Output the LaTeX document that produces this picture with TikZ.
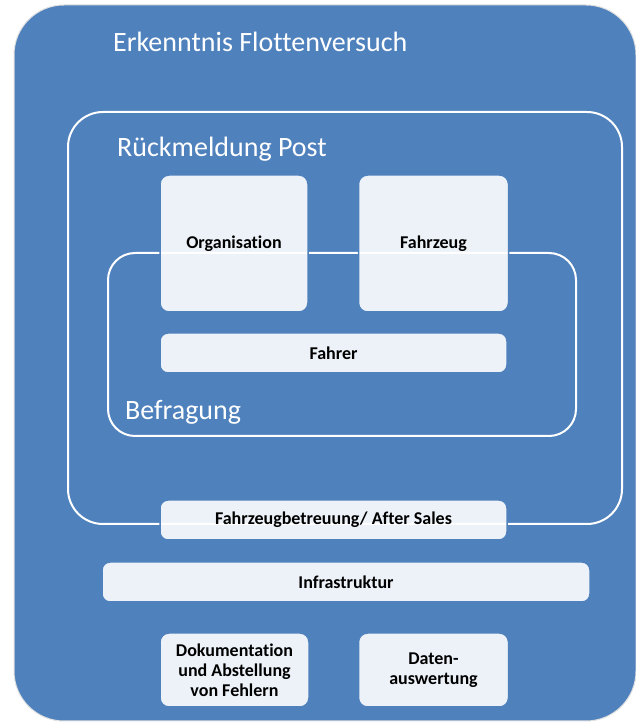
\documentclass[tikz,border=0pt]{standalone}
\usepackage{fontspec}
\setmainfont{Carlito}[Ligatures=NoCommon]
\usetikzlibrary{positioning}
\definecolor{fleetblue}{HTML}{4F81BD}

\begin{document}
\begin{tikzpicture}[x=1pt,y=1pt,node distance=49pt,line join=round]
	\tikzstyle{outer}=[fill=fleetblue,draw=black!12,line width=1pt,rounded corners=50pt,inner sep=0pt]
	\tikzstyle{frame}=[draw=white,line width=2pt,inner sep=0pt]
	\tikzstyle{box}=[draw=fleetblue,line width=1.5pt,fill=white,fill opacity=0.9,text opacity=1,rounded corners=9pt,inner sep=0pt,align=center,font=\fontsize{18}{20}\selectfont\bfseries]
	\tikzstyle{bar}=[box,rounded corners=8pt]
	\tikzstyle{heading}=[text=white,inner sep=0pt,anchor=base west,font=\fontsize{28}{34}\selectfont]

	\useasboundingbox (0,0) rectangle (635,723);

	\node[outer, minimum width=622pt, minimum height=716pt] (fleet) at (325,360) {};
	\node[heading] (fleettitle) at (113,671) {Erkenntnis Flottenversuch};

	\node[frame, rounded corners=35pt, minimum width=554pt, minimum height=412pt] (post) at (345,405) {};
	\node[heading] (posttitle) at (117,566) {Rückmeldung Post};

	\node[frame, rounded corners=27pt, minimum width=468pt, minimum height=183pt] (survey) at (342,378.5) {};
	\node[heading] (surveytitle) at (125,303) {Befragung};

	\node[box, minimum width=148pt, minimum height=137pt] (org) at (234,479.5) {Organisation};
	\node[box, minimum width=150pt, minimum height=137pt] (vehicle) [right = of org] {Fahrzeug};
	\node[bar, minimum width=347pt, minimum height=40pt] (driver) at (333.5,370) {Fahrer};

	\node[bar, minimum width=347pt, minimum height=40pt] (aftersales) at (333.5,203) {Fahrzeugbetreuung/ After Sales};
	\node[bar, minimum width=488pt, minimum height=40pt] (infra) at (346,141) {Infrastruktur};

	\node[box, minimum width=149pt, minimum height=74pt] (docs) at (234.5,53) {Dokumentation\\und Abstellung\\von Fehlern};
	\node[box, minimum width=150pt, minimum height=74pt] (data) [right = 48pt of docs] {Daten-\\auswertung};
\end{tikzpicture}
\end{document}
